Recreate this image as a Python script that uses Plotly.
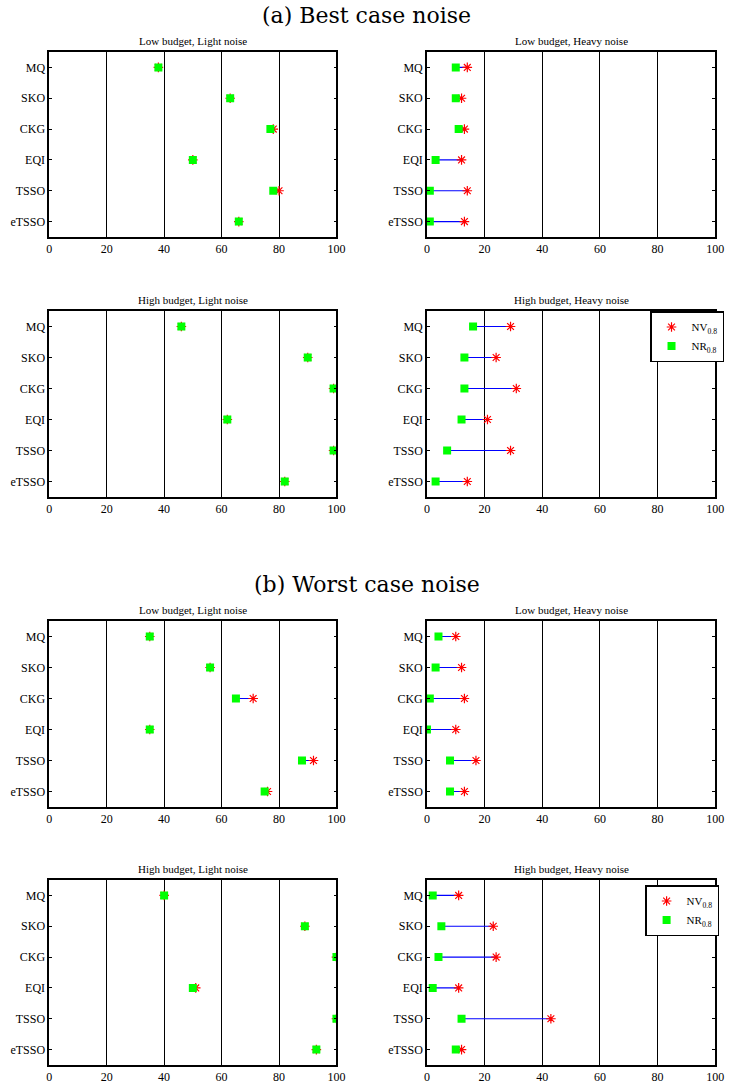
import plotly.graph_objects as go

W, H = 734, 1086
methods = ["MQ", "SKO", "CKG", "EQI", "TSSO", "eTSSO"]

# (a) Best case noise
best_low_light_nv = [38, 63, 78, 50, 80, 66]
best_low_light_nr = [38, 63, 77, 50, 78, 66]
best_low_heavy_nv = [14, 12, 13, 12, 14, 13]
best_low_heavy_nr = [10, 10, 11, 3, 1, 1]
best_high_light_nv = [46, 90, 99, 62, 99, 82]
best_high_light_nr = [46, 90, 99, 62, 99, 82]
best_high_heavy_nv = [29, 24, 31, 21, 29, 14]
best_high_heavy_nr = [16, 13, 13, 12, 7, 3]

# (b) Worst case noise
worst_low_light_nv = [35, 56, 71, 35, 92, 76]
worst_low_light_nr = [35, 56, 65, 35, 88, 75]
worst_low_heavy_nv = [10, 12, 13, 10, 17, 13]
worst_low_heavy_nr = [4, 3, 1, 0, 8, 8]
worst_high_light_nv = [40, 89, 100, 51, 100, 93]
worst_high_light_nr = [40, 89, 100, 50, 100, 93]
worst_high_heavy_nv = [11, 23, 24, 11, 43, 12]
worst_high_heavy_nr = [2, 5, 4, 2, 12, 10]

x_ticks = [0, 20, 40, 60, 80, 100]
panel_titles = ["Low budget, Light noise", "Low budget, Heavy noise",
                "High budget, Light noise", "High budget, Heavy noise"]
section_titles = ["(a) Best case noise", "(b) Worst case noise"]

panels = [
    (best_low_light_nv, best_low_light_nr, panel_titles[0], None),
    (best_low_heavy_nv, best_low_heavy_nr, panel_titles[1], None),
    (best_high_light_nv, best_high_light_nr, panel_titles[2], None),
    (best_high_heavy_nv, best_high_heavy_nr, panel_titles[3], "legend"),
    (worst_low_light_nv, worst_low_light_nr, panel_titles[0], None),
    (worst_low_heavy_nv, worst_low_heavy_nr, panel_titles[1], None),
    (worst_high_light_nv, worst_high_light_nr, panel_titles[2], None),
    (worst_high_heavy_nv, worst_high_heavy_nr, panel_titles[3], "legend2"),
]

# pixel geometry of the axes boxes
cols_px = [(47, 339), (431, 724)]
rows_px = [(52, 237), (311, 497), (621, 807), (880, 1065)]

FONT = 'Liberation Serif, "Times New Roman", Times, serif'
fig = go.Figure()
annotations = []

for i, (nv, nr, title, leg) in enumerate(panels):
    r, c = divmod(i, 2)
    x0, x1 = cols_px[c]
    y0, y1 = rows_px[r]
    n = i + 1
    xa = "x" if n == 1 else f"x{n}"
    ya = "y" if n == 1 else f"y{n}"
    lx, ly = [], []
    for m, a, b in zip(methods, nr, nv):
        lx += [a, b, None]
        ly += [m, m, None]
    fig.add_trace(go.Scatter(x=lx, y=ly, mode="lines", xaxis=xa, yaxis=ya,
                             line=dict(color="#0000ff", width=1.2),
                             showlegend=False, hoverinfo="skip"))
    fig.add_trace(go.Scatter(x=nv, y=methods, mode="markers", xaxis=xa, yaxis=ya,
                             name="NV<sub>0.8</sub>",
                             marker=dict(symbol="asterisk-open", size=8,
                                         color="#ff0000",
                                         line=dict(color="#ff0000", width=1.2)),
                             showlegend=leg is not None,
                             legend=leg if leg else "legend"))
    fig.add_trace(go.Scatter(x=nr, y=methods, mode="markers", xaxis=xa, yaxis=ya,
                             name="NR<sub>0.8</sub>",
                             marker=dict(symbol="square", size=8, color="#00ff00",
                                         line=dict(width=0)),
                             showlegend=leg is not None,
                             legend=leg if leg else "legend"))
    xkey = "xaxis" if n == 1 else f"xaxis{n}"
    ykey = "yaxis" if n == 1 else f"yaxis{n}"
    fig.update_layout({
        xkey: dict(domain=[x0 / W, x1 / W], anchor=ya, range=[0, 100],
                   tickvals=x_ticks, showgrid=True, gridcolor="#000000",
                   gridwidth=1, zeroline=False, showline=True, mirror=True,
                   linecolor="#000000", linewidth=1.5, ticks="",
                   tickfont=dict(family=FONT, size=12, color="#000000")),
        ykey: dict(domain=[1 - y1 / H, 1 - y0 / H], anchor=xa, type="category",
                   categoryorder="array", categoryarray=methods,
                   range=[5.5, -0.5], showgrid=False, zeroline=False,
                   showline=True, mirror="ticks", linecolor="#000000",
                   linewidth=1.5, ticks="inside", ticklen=3,
                   tickcolor="#000000", tickwidth=1,
                   tickfont=dict(family=FONT, size=12, color="#000000")),
    })
    annotations.append(dict(text=title, x=(x0 + x1) / 2 / W, y=1 - (y0 - 11) / H,
                            xref="paper", yref="paper", xanchor="center",
                            yanchor="middle", showarrow=False,
                            font=dict(family=FONT, size=11, color="#000000")))

for k, ypx in enumerate([15, 584]):
    annotations.append(dict(text=section_titles[k], x=370 / W, y=1 - ypx / H,
                            xref="paper", yref="paper", xanchor="center",
                            yanchor="middle", showarrow=False,
                            font=dict(family='"DejaVu Serif", serif', size=22,
                                      color="#000000")))

legend_style = dict(bgcolor="#ffffff", bordercolor="#000000", borderwidth=1.5,
                    font=dict(family=FONT, size=11, color="#000000"),
                    xanchor="right", yanchor="top", xref="paper", yref="paper",
                    traceorder="normal", itemwidth=30)

fig.update_layout(
    width=W, height=H, margin=dict(l=0, r=0, t=0, b=0),
    paper_bgcolor="#ffffff", plot_bgcolor="#ffffff",
    annotations=annotations,
    legend=dict(legend_style, x=733 / W, y=1 - 311 / H),
    legend2=dict(legend_style, x=728 / W, y=1 - 885 / H),
    font=dict(family=FONT, color="#000000"),
)

fig.write_html("out.html")
